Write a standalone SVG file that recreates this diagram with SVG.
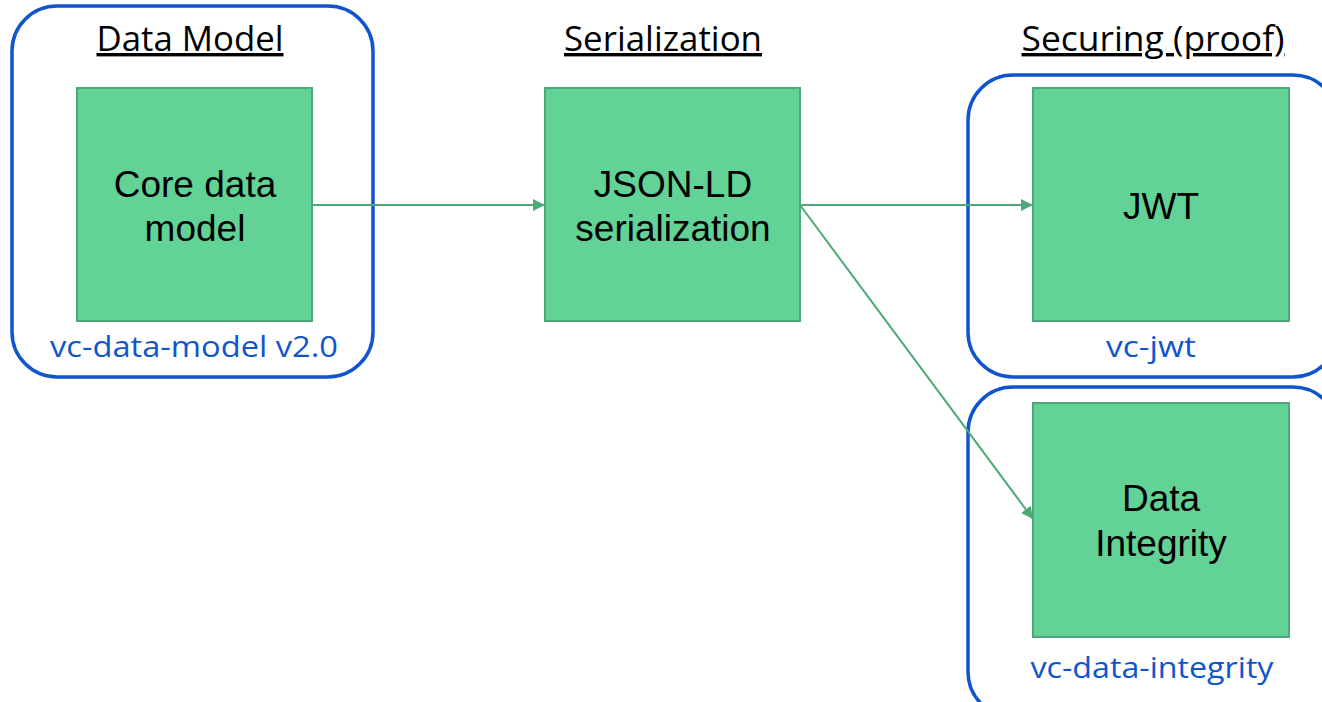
<svg xmlns="http://www.w3.org/2000/svg" width="1322" height="702" viewBox="0 0 1322 702">
<defs>
<style>
.cont{fill:none;stroke:#1155cc;stroke-width:3.5}
.box{fill:#63d297;stroke:#4fa877;stroke-width:2}
.bt{font-family:"Liberation Sans",Arial,sans-serif;font-size:37px;fill:#000;text-anchor:middle}
.title{font-family:"Open Sans",sans-serif;font-size:34px;fill:#000;text-anchor:middle;text-decoration:underline}
.lbl{font-family:"Open Sans",sans-serif;font-size:30px;fill:#1155cc;text-anchor:middle}
.conn{stroke:#4fa877;stroke-width:2;fill:none}
</style>
<marker id="ah" viewBox="0 0 10 10" refX="10" refY="5" markerWidth="12" markerHeight="12" markerUnits="userSpaceOnUse" orient="auto">
<path d="M0,0 L10,5 L0,10 z" fill="#4fa877"/>
</marker>
</defs>
<rect width="1322" height="702" fill="#fff"/>
<text class="title" x="190" y="51" textLength="187" lengthAdjust="spacingAndGlyphs">Data Model</text>
<text class="title" x="663" y="51" textLength="198" lengthAdjust="spacingAndGlyphs">Serialization</text>
<text class="title" x="1153" y="51" textLength="263" lengthAdjust="spacingAndGlyphs">Securing (proof)</text>
<g id="data-model">
<rect class="cont" x="12" y="6" width="361" height="371" rx="45"/>
<rect class="box" x="77" y="88" width="235" height="233"/>
<text class="bt" x="195" y="197">Core data</text>
<text class="bt" x="195" y="241">model</text>
<text class="lbl" x="194" y="357" textLength="288" lengthAdjust="spacingAndGlyphs">vc-data-model v2.0</text>
</g>
<g id="json-ld">
<rect class="box" x="545" y="88" width="255" height="233"/>
<text class="bt" x="673" y="197">JSON-LD</text>
<text class="bt" x="673" y="241">serialization</text>
</g>
<g id="jwt">
<rect class="cont" x="968" y="75" width="370" height="302" rx="45"/>
<rect class="box" x="1033" y="88" width="256" height="233"/>
<text class="bt" x="1161" y="219">JWT</text>
<text class="lbl" x="1151" y="357" textLength="90" lengthAdjust="spacingAndGlyphs">vc-jwt</text>
</g>
<g id="data-integrity">
<rect class="cont" x="968" y="387" width="370" height="330" rx="45"/>
<rect class="box" x="1033" y="403" width="256" height="234"/>
<text class="bt" x="1161" y="511">Data</text>
<text class="bt" x="1161" y="556">Integrity</text>
<text class="lbl" x="1152" y="678" textLength="243" lengthAdjust="spacingAndGlyphs">vc-data-integrity</text>
</g>
<g id="connectors">
<line class="conn" x1="312" y1="205" x2="545" y2="205" marker-end="url(#ah)"/>
<line class="conn" x1="800" y1="205" x2="1033" y2="205" marker-end="url(#ah)"/>
<line class="conn" x1="800" y1="205" x2="1033" y2="519" marker-end="url(#ah)"/>
</g>
</svg>
